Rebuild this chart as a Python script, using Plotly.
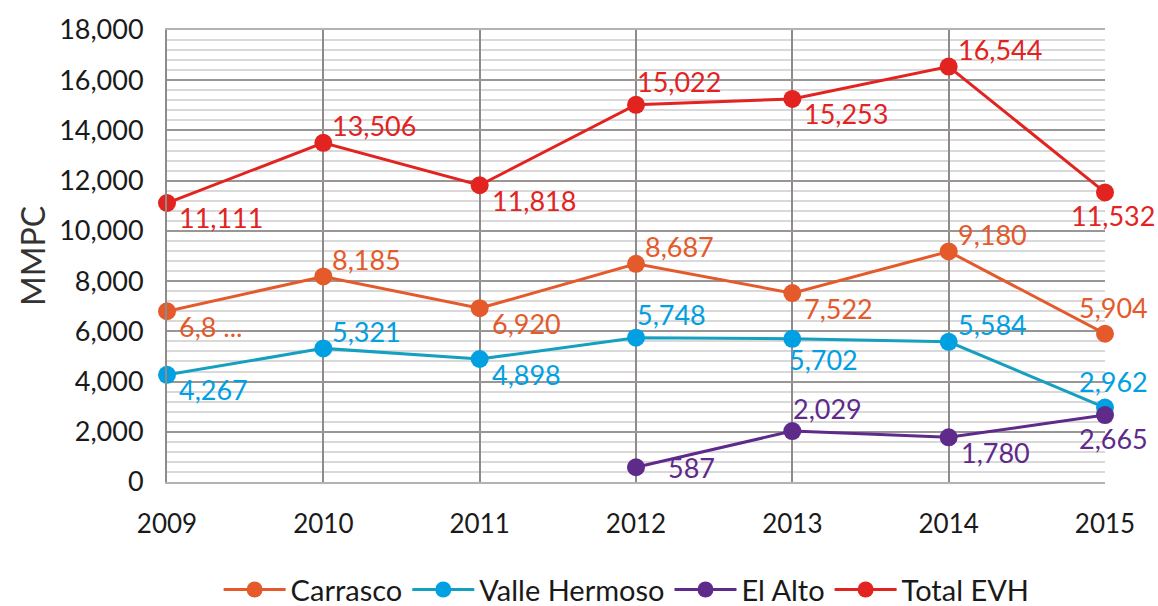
import plotly.graph_objects as go

years = [2009, 2010, 2011, 2012, 2013, 2014, 2015]
carrasco = [6800, 8185, 6920, 8687, 7522, 9180, 5904]
carrasco_lbl = ["6,8 ...", "8,185", "6,920", "8,687", "7,522", "9,180", "5,904"]
valle = [4267, 5321, 4898, 5748, 5702, 5584, 2962]
valle_lbl = ["4,267", "5,321", "4,898", "5,748", "5,702", "5,584", "2,962"]
elalto = [None, None, None, 587, 2029, 1780, 2665]
elalto_lbl = ["", "", "", "587", "2,029", "1,780", "2,665"]
total = [11111, 13506, 11818, 15022, 15253, 16544, 11532]
total_lbl = ["11,111", "13,506", "11,818", "15,022", "15,253", "16,544", "11,532"]

FONT = "Lato"

# label placement styles: (xanchor, xshift, yshift)
PLACE = {
    "tr": ("left", 7, 17),
    "t0": ("left", -1, 23),
    "br": ("left", 10, -15),
    "b0": ("left", -5, -21),
    "tc": ("center", 8, 26),
    "bc": ("center", 8, -23),
    "r": ("left", 30, 0),
}

series = [
    ("Carrasco", carrasco, carrasco_lbl, "#e55a2b", "#e55a2b",
     ["br", "tr", "br", "tr", "br", "tr", "tc"]),
    ("Valle Hermoso", valle, valle_lbl, "#16a0bf", "#00a0e2",
     ["br", "tr", "br", "t0", "b0", "tr", "tc"]),
    ("El Alto", elalto, elalto_lbl, "#5f2b8b", "#5f2b8b",
     ["br", "br", "br", "r", "t0", "br", "bc"]),
    ("Total EVH", total, total_lbl, "#e2231f", "#e2231f",
     ["br", "tr", "br", "t0", "br", "tr", "bc"]),
]

fig = go.Figure()
annotations = []
for name, vals, lbls, lcol, mcol, pos in series:
    fig.add_trace(go.Scatter(
        x=years, y=vals, name=name, mode="lines+markers",
        line=dict(color=lcol, width=3),
        marker=dict(color=mcol, size=18),
        cliponaxis=False,
    ))
    for xv, yv, t, p in zip(years, vals, lbls, pos):
        if yv is None:
            continue
        xa, xs, ys = PLACE[p]
        annotations.append(dict(
            x=xv, y=yv, xref="x", yref="y", text=t, showarrow=False,
            xanchor=xa, yanchor="middle", xshift=xs, yshift=ys,
            font=dict(family=FONT, size=27, color=mcol),
        ))

fig.update_layout(
    width=1158, height=606,
    margin=dict(l=167, r=53, t=30, b=124),
    paper_bgcolor="white", plot_bgcolor="white",
    font=dict(family=FONT, size=25, color="#1a1a1a"),
    showlegend=True,
    annotations=annotations,
    legend=dict(orientation="h", x=0.49, xanchor="center",
                yref="container", y=0.027, yanchor="middle",
                font=dict(family=FONT, size=29, color="#1a1a1a"),
                itemwidth=62, tracegroupgap=0),
    xaxis=dict(range=[2009, 2015], tickvals=years, showgrid=True, automargin=False,
               gridcolor="#8f8b8b", gridwidth=2, zeroline=False,
               showline=True, linecolor="#b5b2b2", linewidth=2, mirror=True,
               ticklabelstandoff=18,
               tickfont=dict(family=FONT, size=26, color="#1a1a1a"), ticks=""),
    yaxis=dict(range=[0, 18000], tickvals=list(range(0, 18001, 2000)), automargin=False,
               tickformat=",d", showgrid=True, gridcolor="#9a9696", gridwidth=1.5,
               minor=dict(dtick=400, showgrid=True, gridcolor="#d9d9d9", gridwidth=2),
               zeroline=False, showline=True, linecolor="#8f8b8b", linewidth=2,
               ticklabelstandoff=16,
               title=dict(text="MMPC", font=dict(family=FONT, size=32, color="#333333"), standoff=4),
               tickfont=dict(family=FONT, size=27, color="#1a1a1a"), ticks=""),
)

fig.write_html("out.html", config={"displayModeBar": False},
               post_script="document.body.style.margin='0';")
